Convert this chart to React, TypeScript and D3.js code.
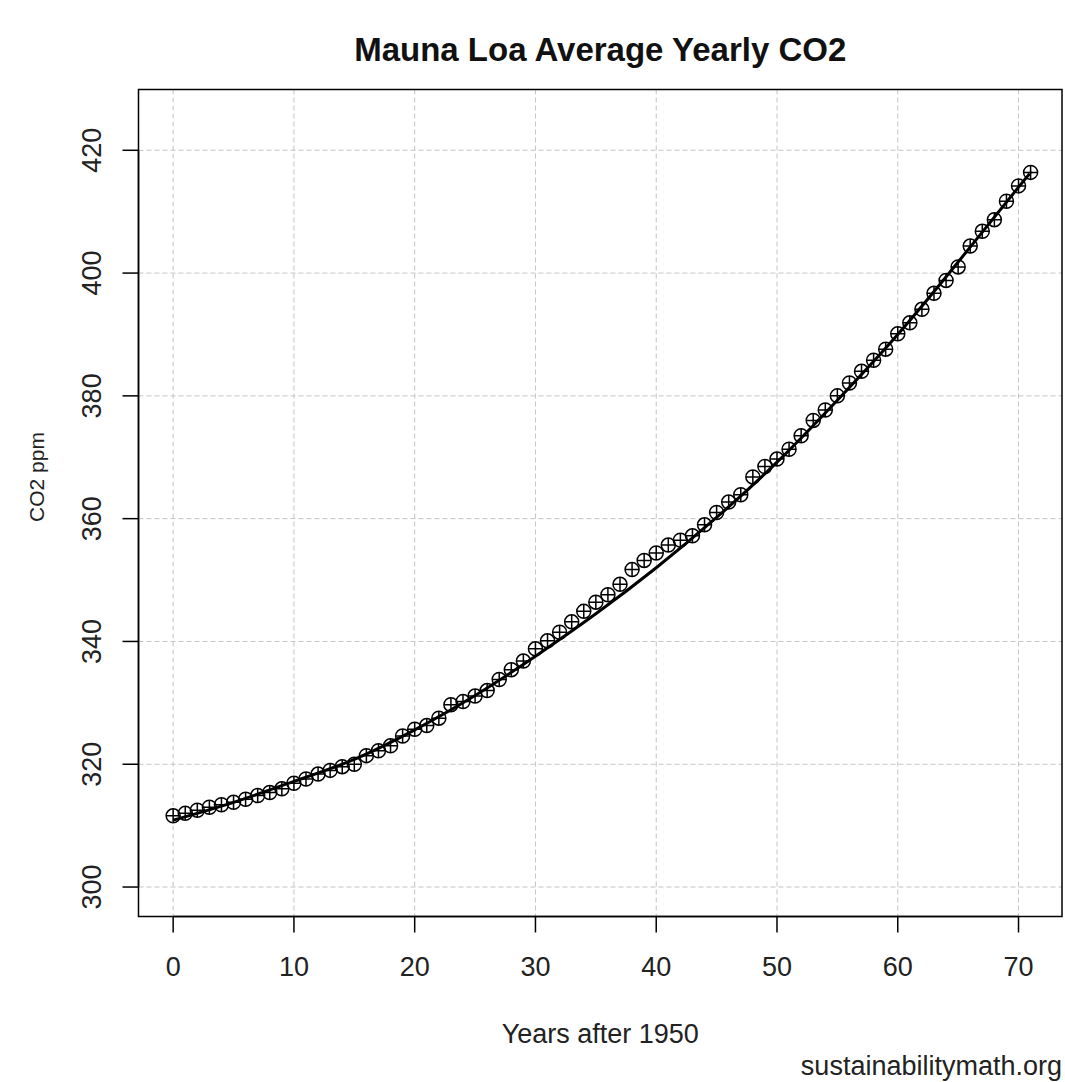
import React, { useEffect, useRef } from 'react';
import * as d3 from 'd3';

// years after 1950 and yearly mean CO2 (ppm)
const years = d3.range(0, 72);
const co2 = [
    311.6, 312.0, 312.5, 313.0, 313.4, 313.8, 314.3, 314.9, 315.4, 316.0,
    316.9, 317.6, 318.4, 319.0, 319.6, 320.0, 321.4, 322.2, 323.0, 324.6,
    325.7, 326.3, 327.5, 329.7, 330.2, 331.1, 332.0, 333.8, 335.4, 336.8,
    338.8, 340.1, 341.5, 343.2, 344.9, 346.4, 347.6, 349.3, 351.7, 353.2,
    354.4, 355.7, 356.5, 357.2, 359.0, 361.0, 362.7, 363.9, 366.8, 368.5,
    369.7, 371.3, 373.5, 376.0, 377.7, 380.0, 382.1, 384.0, 385.8, 387.6,
    390.1, 391.9, 394.1, 396.7, 398.8, 401.0, 404.4, 406.8, 408.7, 411.7,
    414.2, 416.4
];

// fitted curve, read at a few x positions
const fitYears = [0, 5, 10, 15, 20, 25, 30, 35, 40, 45, 50, 55, 60, 65, 70, 71];
const fitCo2 = [310.9, 313.8, 317.2, 320.8, 325.6, 331.2, 337.6, 344.5, 352.0, 360.2, 369.2, 379.3, 390.0, 401.8, 414.0, 416.3];

const xTicks = [0, 10, 20, 30, 40, 50, 60, 70];
const yTicks = [300, 320, 340, 360, 380, 400, 420];

const W = 1065, H = 1082;
const font = "'Liberation Sans', Arial, sans-serif";

const App = () => {
    const ref = useRef<SVGSVGElement>(null);

    useEffect(() => {
        const svg = d3.select(ref.current);
        svg.selectAll("*").remove();

        const left = 138.5, right = 1062, top = 89.5, bottom = 916.5;

        const x = d3.scaleLinear().domain([-2.87, 73.6]).range([left, right]);
        const y = d3.scaleLinear().domain([295.2, 429.9]).range([bottom, top]);

        svg.append("rect").attr("width", W).attr("height", H).attr("fill", "white");

        // grid
        const grid = svg.append("g")
            .attr("stroke", "#c4c4c4")
            .attr("stroke-width", 1)
            .attr("stroke-dasharray", "5,3");
        grid.selectAll(".vg").data(xTicks).enter().append("line")
            .attr("x1", d => x(d)).attr("x2", d => x(d))
            .attr("y1", top).attr("y2", bottom);
        grid.selectAll(".hg").data(yTicks).enter().append("line")
            .attr("x1", left).attr("x2", right)
            .attr("y1", d => y(d)).attr("y2", d => y(d));

        // fitted curve
        const line = d3.line<number>()
            .x((d, i) => x(fitYears[i]))
            .y(d => y(d))
            .curve(d3.curveNatural);
        svg.append("path")
            .datum(fitCo2)
            .attr("d", line)
            .attr("fill", "none")
            .attr("stroke", "black")
            .attr("stroke-width", 3);

        // points (circle plus)
        const r = 7;
        const pts = svg.append("g")
            .attr("fill", "none")
            .attr("stroke", "black")
            .attr("stroke-width", 1.5);
        const p = pts.selectAll(".pt").data(co2).enter().append("g")
            .attr("transform", (d, i) => `translate(${x(years[i])},${y(d)})`);
        p.append("circle").attr("r", r);
        p.append("path").attr("d", `M${-r},0H${r}M0,${-r}V${r}`);

        // frame
        svg.append("rect")
            .attr("x", left).attr("y", top)
            .attr("width", right - left).attr("height", bottom - top)
            .attr("fill", "none").attr("stroke", "black").attr("stroke-width", 1.5);

        // x axis
        const xa = svg.append("g").attr("transform", `translate(0,${bottom})`);
        xa.append("line").attr("x1", x(0)).attr("x2", x(70)).attr("stroke", "black").attr("stroke-width", 1.5);
        xa.selectAll(".t").data(xTicks).enter().append("line")
            .attr("x1", d => x(d)).attr("x2", d => x(d))
            .attr("y1", 0).attr("y2", 16)
            .attr("stroke", "black").attr("stroke-width", 1.5);
        xa.selectAll(".l").data(xTicks).enter().append("text")
            .attr("x", d => x(d)).attr("y", 59)
            .attr("text-anchor", "middle")
            .attr("font-family", font).attr("font-size", 27).attr("fill", "#222")
            .text(d => d);

        // y axis
        const ya = svg.append("g").attr("transform", `translate(${left},0)`);
        ya.append("line").attr("y1", y(300)).attr("y2", y(420)).attr("stroke", "black").attr("stroke-width", 1.5);
        ya.selectAll(".t").data(yTicks).enter().append("line")
            .attr("x1", 0).attr("x2", -16)
            .attr("y1", d => y(d)).attr("y2", d => y(d))
            .attr("stroke", "black").attr("stroke-width", 1.5);
        ya.selectAll(".l").data(yTicks).enter().append("text")
            .attr("transform", d => `translate(-38,${y(d)}) rotate(-90)`)
            .attr("text-anchor", "middle")
            .attr("font-family", font).attr("font-size", 27).attr("fill", "#222")
            .text(d => d);

        // labels
        svg.append("text")
            .attr("x", (left + right) / 2).attr("y", 61)
            .attr("text-anchor", "middle")
            .attr("font-family", font).attr("font-size", 33).attr("font-weight", "bold")
            .attr("fill", "#111")
            .text("Mauna Loa Average Yearly CO2");

        svg.append("text")
            .attr("x", (left + right) / 2).attr("y", 1043)
            .attr("text-anchor", "middle")
            .attr("font-family", font).attr("font-size", 27).attr("fill", "#222")
            .text("Years after 1950");

        svg.append("text")
            .attr("transform", `translate(44,477) rotate(-90)`)
            .attr("text-anchor", "middle")
            .attr("font-family", font).attr("font-size", 21).attr("fill", "#222")
            .text("CO2 ppm");

        svg.append("text")
            .attr("x", 1062).attr("y", 1075)
            .attr("text-anchor", "end")
            .attr("font-family", font).attr("font-size", 27).attr("fill", "#222")
            .text("sustainabilitymath.org");
    }, []);

    return <svg ref={ref} width={W} height={H} style={{ position: 'absolute', left: 0, top: 0 }} />;
};

export default App;
